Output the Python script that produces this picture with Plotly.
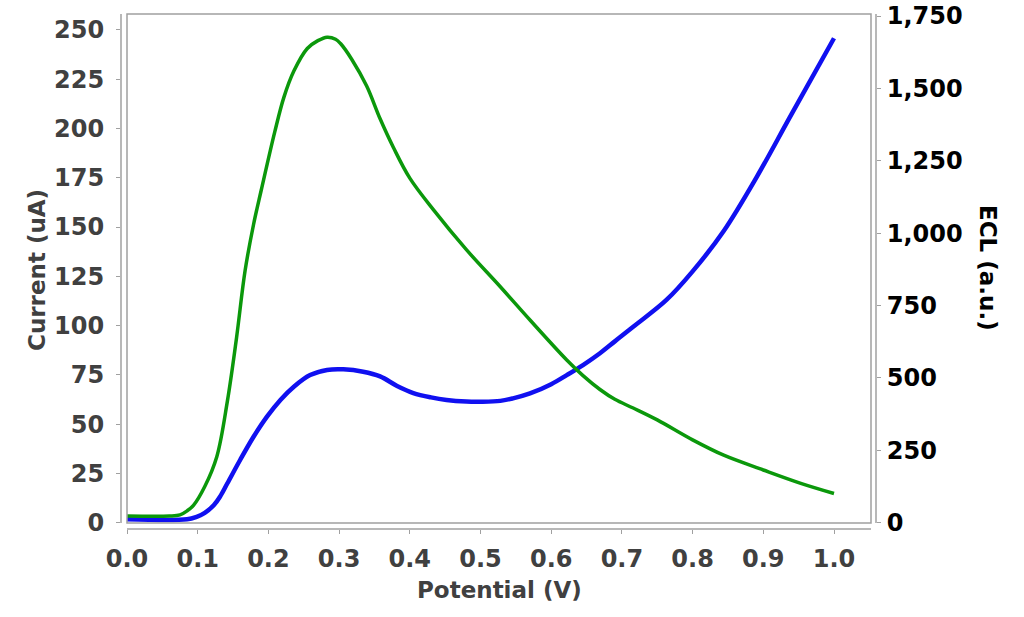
import plotly.graph_objects as go

# potential sweep (V) and readings
ecl_potential = [0.0, 0.06, 0.075, 0.085, 0.094, 0.11, 0.127, 0.142, 0.155, 0.167,
                 0.179, 0.19, 0.209, 0.222, 0.236, 0.255, 0.27, 0.283, 0.295, 0.302,
                 0.318, 0.339, 0.358, 0.377, 0.4, 0.433, 0.48, 0.528, 0.57, 0.622,
                 0.645, 0.669, 0.69, 0.716, 0.75, 0.8, 0.844, 0.9, 0.953, 1.0]
ecl_signal = [23, 23, 27, 41, 60, 125, 228, 420, 640, 870,
              1030, 1150, 1350, 1470, 1560, 1638, 1665, 1677, 1670, 1655,
              1600, 1508, 1395, 1295, 1190, 1082, 943, 815, 700, 562,
              508, 460, 426, 396, 355, 286, 233, 182, 136, 101]

current_potential = [0.0, 0.085, 0.0985, 0.11, 0.123, 0.1315, 0.142, 0.16, 0.179, 0.198,
                     0.217, 0.236, 0.259, 0.283, 0.306, 0.334, 0.358, 0.382, 0.405, 0.43,
                     0.452, 0.48, 0.5, 0.528, 0.546, 0.57, 0.6, 0.622, 0.645, 0.669,
                     0.69, 0.716, 0.763, 0.8, 0.844, 0.891, 0.938, 1.0]
current_ua = [1.7, 1.7, 3.0, 5.0, 9.0, 13.2, 20.0, 31.8, 43.6, 53.8,
              62.3, 69.0, 74.9, 77.5, 77.8, 76.6, 74.2, 69.4, 65.8, 63.6,
              62.3, 61.5, 61.4, 61.8, 63.1, 65.6, 70.3, 74.9, 80.0, 86.0,
              92.0, 99.4, 113.0, 127.5, 148.0, 175.6, 206.0, 245.8]

x_ticks = [0.0, 0.1, 0.2, 0.3, 0.4, 0.5, 0.6, 0.7, 0.8, 0.9, 1.0]
current_ticks = [0, 25, 50, 75, 100, 125, 150, 175, 200, 225, 250]
ecl_ticks = [0, 250, 500, 750, 1000, 1250, 1500, 1750]

W, H = 1024, 617
# plot area (where the offset axis lines sit) and the inner frame, in pixels
L, R, T, B = 121, 876, 14, 529
FL, FR, FT, FB = 127, 871, 14, 523


def px(x):
    return (x - L) / (R - L)


def py(y):
    return (B - y) / (B - T)


GREY = "#404040"
AXIS_GREY = "#a0a0a0"
FONT = "DejaVu Sans"

fig = go.Figure()
fig.add_trace(go.Scatter(x=ecl_potential, y=ecl_signal, yaxis="y2", mode="lines",
                         line=dict(color="#0b980b", width=3.5, shape="spline", smoothing=1.0),
                         name="ECL"))
fig.add_trace(go.Scatter(x=current_potential, y=current_ua, mode="lines",
                         line=dict(color="#1010f0", width=4.5, shape="spline", smoothing=1.0),
                         name="Current"))

line_style = dict(color=AXIS_GREY, width=1.5)
shapes = [
    dict(type="rect", xref="paper", yref="paper", x0=px(FL), x1=px(FR), y0=py(FB), y1=py(FT),
         line=line_style),
    dict(type="line", xref="paper", yref="paper", x0=0, x1=0, y0=py(FB), y1=py(FT), line=line_style),
    dict(type="line", xref="paper", yref="paper", x0=1, x1=1, y0=py(FB), y1=py(FT), line=line_style),
    dict(type="line", xref="paper", yref="paper", x0=px(FL), x1=px(FR), y0=0, y1=0, line=line_style),
]

tick_common = dict(showgrid=False, zeroline=False, showline=False, automargin=False,
                   ticks="outside", ticklen=4, tickcolor=AXIS_GREY, ticklabeloverflow="allow")


def title_note(text, x, y, angle, color):
    return dict(text=text, xref="paper", yref="paper", x=px(x), y=py(y),
                xanchor="center", yanchor="middle", textangle=angle, showarrow=False,
                font=dict(family=FONT, size=23, color=color, weight="bold"))


fig.update_layout(
    width=W, height=H,
    margin=dict(l=L, r=W - R, t=T, b=H - B, autoexpand=False),
    plot_bgcolor="white", paper_bgcolor="white",
    showlegend=False,
    font=dict(family=FONT),
    shapes=shapes,
    xaxis=dict(range=[(L - FL) / 707, (R - FL) / 707], tickvals=x_ticks, tickformat=".1f",
               ticklabelstandoff=4,
               tickfont=dict(family=FONT, size=24, color=GREY, weight="bold"), **tick_common),
    yaxis=dict(range=[-3.2, 258.1], tickvals=current_ticks, ticklabelstandoff=7,
               tickfont=dict(family=FONT, size=24, color=GREY, weight="bold"), **tick_common),
    yaxis2=dict(range=[-21.8, 1757], tickvals=ecl_ticks, tickformat=",d",
                overlaying="y", side="right", ticklabelstandoff=1,
                tickfont=dict(family=FONT, size=24, color="black", weight="bold"), **tick_common),
    annotations=[
        title_note("Potential (V)", 499, 590, 0, GREY),
        title_note("Current (uA)", 37, 270, -90, GREY),
        title_note("ECL (a.u.)", 988, 268, 90, "black"),
    ],
)

# drop the default page margin so the figure fills the window from its corner
fig.write_html("out.html", config={"displayModeBar": False},
               post_script="document.body.style.margin = '0';")
